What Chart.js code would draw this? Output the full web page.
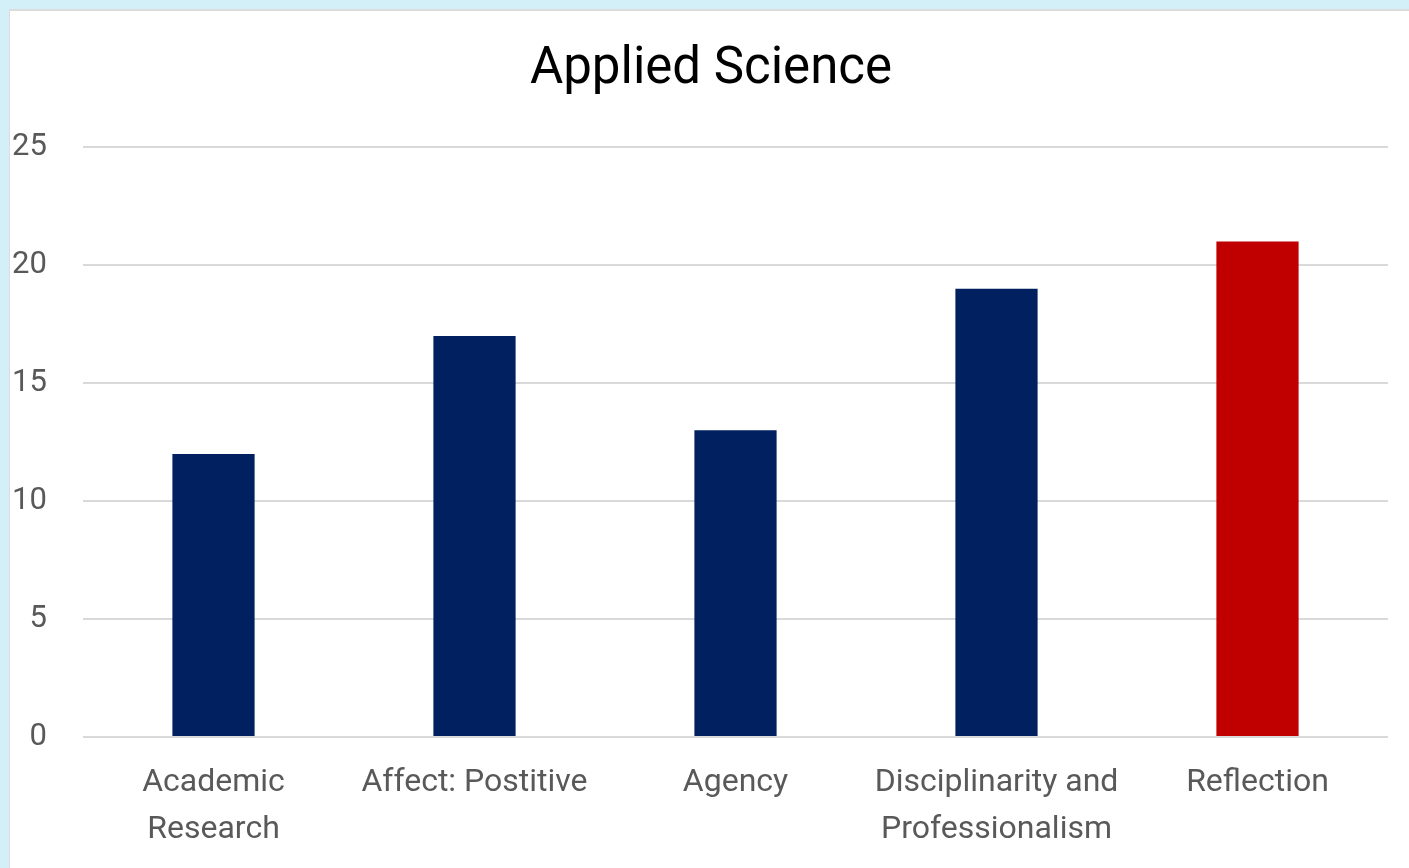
<!DOCTYPE html>
<html>
<head>
<meta charset="utf-8">
<script src="https://cdn.jsdelivr.net/npm/chart.js@4.4.1/dist/chart.umd.min.js"></script>
<style>
  html, body { margin: 0; padding: 0; background: #d3eff8; }
  #panel {
    position: absolute; left: 9px; top: 9px;
    width: 1400px; height: 859px;
    background: #fff;
    border-left: 1px solid #dcdcdc; border-top: 2px solid #dcdcdc;
    box-sizing: border-box;
  }
  #chart { display: block; }
</style>
</head>
<body>
<div id="panel"><canvas id="chart" width="1399" height="857"></canvas></div>
<script>
const categories = [
    ['Academic', 'Research'],
    'Affect: Postitive',
    'Agency',
    ['Disciplinarity and', 'Professionalism'],
    'Reflection'
];
const counts = [12, 17, 13, 19, 21];
const barColors = ['#002060', '#002060', '#002060', '#002060', '#c00000'];
const yTicks = [0, 5, 10, 15, 20, 25];

const FONT = 'Roboto, "Open Sans", sans-serif';

const ctx = document.getElementById('chart').getContext('2d');
const chart = new Chart(ctx, {
    type: 'bar',
    data: {
        labels: categories,
        datasets: [{
            label: 'Applied Science',
            data: counts,
            backgroundColor: barColors,
            borderWidth: 0,
            barPercentage: 0.315,
            categoryPercentage: 1
        }]
    },
    options: {
        responsive: false,
        animation: false,
        // left padding pushes the title centre right, like the original
        layout: { padding: { left: 24, right: 21, top: 0, bottom: 0 } },
        scales: {
            x: {
                grid: { display: false },
                border: { display: false },
                ticks: {
                    color: '#595959',
                    font: { family: FONT, size: 32, lineHeight: 1.47 },
                    padding: 14,
                    maxRotation: 0,
                    autoSkip: false
                },
                afterFit: s => { s.height = 131; }
            },
            y: {
                min: 0,
                max: 25,
                afterBuildTicks: s => { s.ticks = yTicks.map(v => ({ value: v })); },
                grid: { color: '#d9d9d9', lineWidth: 2, drawTicks: false },
                border: { display: false },
                // mirrored labels are not clipped to the (narrow) scale box;
                // negative padding puts them back left of the plot area
                ticks: {
                    color: '#595959',
                    font: { family: FONT, size: 31 },
                    mirror: true,
                    crossAlign: 'far',
                    padding: -71
                },
                afterFit: s => { s.width = 49; }
            }
        },
        plugins: {
            legend: { display: false },
            tooltip: { enabled: false },
            title: {
                display: true,
                text: 'Applied Science',
                color: '#000',
                font: { family: FONT, size: 51, weight: 'normal' },
                padding: { top: 29, bottom: 46 }
            }
        }
    }
});
</script>
</body>
</html>
